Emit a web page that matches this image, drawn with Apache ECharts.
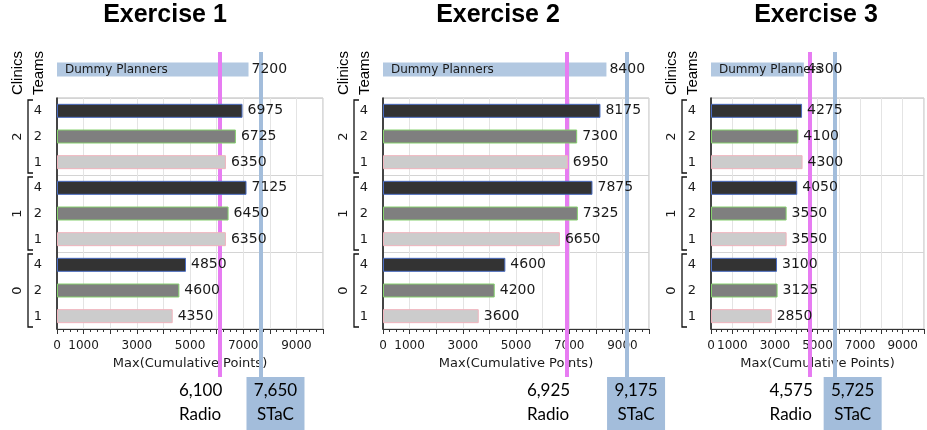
<!DOCTYPE html>
<html><head><meta charset="utf-8">
<script src="https://cdn.jsdelivr.net/npm/echarts@6/dist/echarts.min.js"></script>
<style>html,body{margin:0;padding:0;background:#fff}#c{width:927px;height:430px}</style>
</head><body><div id="c"></div>
<script>
// ---- data ----
const exerciseTitles = ['Exercise 1', 'Exercise 2', 'Exercise 3'];
const clinics = ['2', '1', '0'];          // top to bottom
const teams = ['4', '2', '1'];            // inside each clinic, top to bottom
// values in order: clinic 2 (team 4,2,1), clinic 1 (4,2,1), clinic 0 (4,2,1)
const ex1Values = [6975, 6725, 6350, 7125, 6450, 6350, 4850, 4600, 4350];
const ex2Values = [8175, 7300, 6950, 7875, 7325, 6650, 4600, 4200, 3600];
const ex3Values = [4275, 4100, 4300, 4050, 3550, 3550, 3100, 3125, 2850];
const dummyValues = [7200, 8400, 4300];
const radioValues = [6100, 6925, 4575];
const stacValues = [7650, 9175, 5725];
const dummyName = 'Dummy Planners';
const axisName = 'Max(Cumulative Points)';
const tickLabels = [0, 1000, 3000, 5000, 7000, 9000];
const axisMin = 0, axisMax = 10000, axisStep = 1000;

// ---- layout / style ----
const panelLeft = [57, 383, 711];
const plotWidth = 266;
const titleX = [165, 498, 816];
const boxShift = [15, 9, 18];
const teamFill = ['#333333', '#7f7f7f', '#cccccc'];
const teamBorder = ['#4a6cc0', '#86d06e', '#f0b4bd'];
const dummyColor = '#a5bedc';
const radioColor = '#e77cf2';
const stacColor = '#a3bddb';
const txt = '#1a1a1a';
const FONT = 'DejaVu Sans';

const panelValues = [ex1Values, ex2Values, ex3Values];
const catKeys = [];
clinics.forEach(c => teams.forEach(t => catKeys.push(c + '|' + t)));

const grids = [], xAxes = [], yAxes = [], series = [];
for (let p = 0; p < 3; p++) {
  const L = panelLeft[p];
  const gMain = 3 * p, gDummy = 3 * p + 1, gLine = 3 * p + 2;
  grids.push({left: L, top: 98, width: plotWidth, height: 231, show: true, borderColor: '#b8b8b8', borderWidth: 1});
  grids.push({left: L, top: 62, width: plotWidth, height: 15});
  grids.push({left: L, top: 52, width: plotWidth, height: 325});

  xAxes.push({
    gridIndex: gMain, type: 'value', min: axisMin, max: axisMax, interval: axisStep,
    axisLine: {show: true, onZero: false, lineStyle: {color: '#333', width: 1}},
    axisTick: {show: true, length: 5, lineStyle: {color: '#333'}},
    minorTick: {show: true, splitNumber: 4, length: 3, lineStyle: {color: '#333'}},
    splitLine: {show: true, lineStyle: {color: '#e4e4e4'}},
    axisLabel: {margin: 11, fontFamily: FONT, fontSize: 12, color: txt,
      formatter: v => tickLabels.includes(v) ? String(v) : ''},
    name: axisName, nameLocation: 'middle', nameGap: 24,
    nameTextStyle: {fontFamily: FONT, fontSize: 13, color: txt}
  });
  xAxes.push({gridIndex: gDummy, type: 'value', min: axisMin, max: axisMax, show: false});
  xAxes.push({gridIndex: gLine, type: 'value', min: axisMin, max: axisMax, show: false});

  yAxes.push({
    gridIndex: gMain, type: 'category', inverse: true, data: catKeys, offset: 10,
    axisLine: {show: true, lineStyle: {color: '#111', width: 1.5}},
    axisTick: {show: false},
    axisLabel: {margin: 5, fontFamily: FONT, fontSize: 13, color: txt, formatter: v => v.split('|')[1]},
    splitLine: {show: true, interval: (i) => i % 3 === 0, lineStyle: {color: '#d4d4d4'}}
  });
  yAxes.push({gridIndex: gDummy, type: 'category', data: [dummyName], show: false});
  yAxes.push({gridIndex: gLine, type: 'value', min: 0, max: 1, show: false});

  // reference lines
  series.push({
    type: 'scatter', xAxisIndex: gLine, yAxisIndex: gLine, data: [[0, 0]], symbolSize: 0, silent: true, z: 1,
    markLine: {
      silent: true, z: 1, symbol: ['none', 'none'], label: {show: false},
      data: [
        {xAxis: radioValues[p], lineStyle: {color: radioColor, width: 4, type: 'solid', opacity: 1}},
        {xAxis: stacValues[p], lineStyle: {color: stacColor, width: 4, type: 'solid', opacity: 1}}
      ]
    }
  });
  // dummy bar
  series.push({type: 'bar', xAxisIndex: gDummy, yAxisIndex: gDummy, data: [dummyValues[p]], barWidth: 14, z: 0,
    itemStyle: {color: dummyColor, opacity: 0.85}});
  series.push({type: 'bar', xAxisIndex: gDummy, yAxisIndex: gDummy, data: [dummyValues[p]], barWidth: 14, z: 4,
    itemStyle: {color: 'rgba(0,0,0,0)'},
    label: {show: true, position: 'right', distance: 3, fontFamily: FONT, fontSize: 14, color: txt}});
  series.push({type: 'bar', xAxisIndex: gDummy, yAxisIndex: gDummy, data: [dummyValues[p]], barWidth: 14, z: 4,
    barGap: '-100%', itemStyle: {color: 'rgba(0,0,0,0)'},
    label: {show: true, position: 'insideLeft', distance: 8, fontFamily: FONT, fontSize: 12, color: txt,
      formatter: () => dummyName}});
  // main bars
  series.push({
    type: 'bar', xAxisIndex: gMain, yAxisIndex: gMain, barWidth: 14, z: 3,
    data: panelValues[p].map((v, i) => ({value: v, itemStyle: {color: teamFill[i % 3], borderColor: teamBorder[i % 3], borderWidth: 1}})),
    label: {show: true, position: 'right', distance: 5, fontFamily: FONT, fontSize: 14, color: txt}
  });
}

const chart = echarts.init(document.getElementById('c'), null, {renderer: 'canvas'});
chart.setOption({animation: false, grid: grids, xAxis: xAxes, yAxis: yAxes, series: series});

const graphics = [];
for (let p = 0; p < 3; p++) {
  const gMain = 3 * p, gLine = 3 * p + 2;
  const x0 = chart.convertToPixel({gridIndex: gMain}, [0, catKeys[0]])[0];
  const c0 = chart.convertToPixel({gridIndex: gMain}, [0, catKeys[0]])[1];
  const c1 = chart.convertToPixel({gridIndex: gMain}, [0, catKeys[1]])[1];
  const band = c1 - c0;
  graphics.push({type: 'text', style: {text: exerciseTitles[p], x: titleX[p], y: 15, align: 'center', verticalAlign: 'middle',
    font: 'bold 25px "Liberation Sans", Arial', fill: '#000'}});
  graphics.push({type: 'text', x: x0 - 39, y: 73, rotation: Math.PI / 2,
    style: {text: 'Clinics', x: 0, y: 0, align: 'center', verticalAlign: 'middle', font: '15px "Liberation Sans", Arial', fill: '#000'}});
  graphics.push({type: 'text', x: x0 - 18, y: 73, rotation: Math.PI / 2,
    style: {text: 'Teams', x: 0, y: 0, align: 'center', verticalAlign: 'middle', font: '15px "Liberation Sans", Arial', fill: '#000'}});
  clinics.forEach((c, g) => {
    const yT = chart.convertToPixel({gridIndex: gMain}, [0, catKeys[g * 3]])[1] - band / 2 + 2;
    const yB = chart.convertToPixel({gridIndex: gMain}, [0, catKeys[g * 3 + 2]])[1] + band / 2 - 2;
    const bx = x0 - 29;
    graphics.push({type: 'polyline', shape: {points: [[bx + 5, yT], [bx, yT], [bx, yB], [bx + 5, yB]]},
      style: {stroke: '#111', lineWidth: 1.3, fill: null}});
    graphics.push({type: 'text', x: x0 - 39, y: (yT + yB) / 2, rotation: Math.PI / 2,
      style: {text: c, x: 0, y: 0, align: 'center', verticalAlign: 'middle', font: '13px "DejaVu Sans"', fill: txt}});
  });
  const rx = chart.convertToPixel({gridIndex: gLine}, [radioValues[p], 0])[0];
  const sx = chart.convertToPixel({gridIndex: gLine}, [stacValues[p], 0])[0];
  graphics.push({type: 'text', style: {text: radioValues[p].toLocaleString('en-US'), x: rx + 3, y: 391, align: 'right', verticalAlign: 'middle',
    font: '17px Lato', fill: '#000'}});
  graphics.push({type: 'text', style: {text: 'Radio', x: rx + 2, y: 415, align: 'right', verticalAlign: 'middle',
    font: '17px Lato', fill: '#000'}});
  const bc = sx + boxShift[p];
  graphics.push({type: 'rect', shape: {x: bc - 29, y: 377, width: 58, height: 53}, style: {fill: stacColor}});
  graphics.push({type: 'text', style: {text: stacValues[p].toLocaleString('en-US'), x: bc, y: 391, align: 'center', verticalAlign: 'middle',
    font: '17px Lato', fill: '#000'}});
  graphics.push({type: 'text', style: {text: 'STaC', x: bc, y: 415, align: 'center', verticalAlign: 'middle',
    font: '17px Lato', fill: '#000'}});
}
chart.setOption({graphic: graphics});
</script>
</body></html>
